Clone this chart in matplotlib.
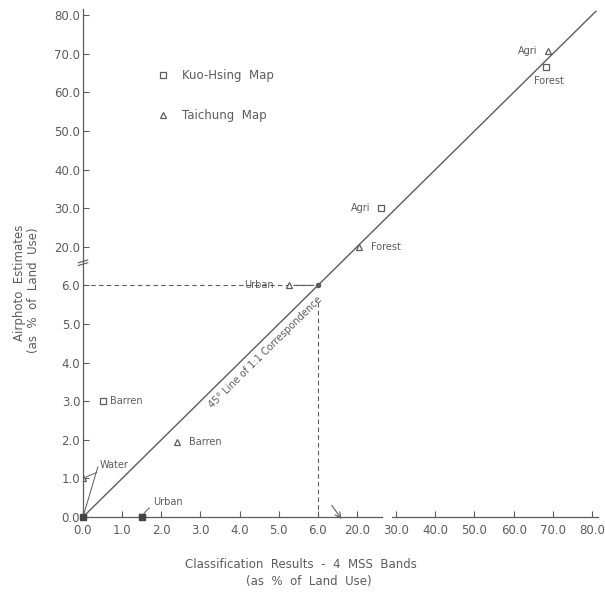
"""
Airphoto estimates vs. 4-band MSS classification, broken 0-6 / 20-80 axes.
"""

import numpy as np
import matplotlib.pyplot as plt

# Tick values on both axes (scale is broken between 6 and 20)
tick_values = [0, 1, 2, 3, 4, 5, 6, 20, 30, 40, 50, 60, 70, 80]
tick_labels = [f'{v:.1f}' for v in tick_values]

# Kuo-Hsing map (squares): classification % (x), airphoto % (y)
kuo_names = ['Agri', 'Forest', 'Urban', 'Barren', 'Water']
kuo_class = [26.0, 68.3, 1.5, 0.5, 0.0]
kuo_photo = [30.0, 66.5, 0.0, 3.0, 0.0]

# Taichung map (triangles)
tai_names = ['Agri', 'Forest', 'Urban', 'Barren', 'Water']
tai_class = [68.8, 20.5, 5.25, 2.4, 0.0]
tai_photo = [70.7, 20.0, 6.0, 1.95, 1.0]

ref_value = 6.0      # dashed guides where the scale breaks
line_end = 81.0      # end of the 1:1 line


def fwd(v):
    v = np.asarray(v, dtype=float)
    return np.where(v <= 6, v, np.where(v < 20, 6 + (v - 6) / 14, 7 + (v - 20) / 10))


def inv(p):
    p = np.asarray(p, dtype=float)
    return np.where(p <= 6, p, np.where(p < 7, 6 + (p - 6) * 14, 20 + (p - 7) * 10))


c = '#5c5c5c'
plt.rcParams['font.family'] = ['DejaVu Sans']

fig = plt.figure(figsize=(6.05, 5.93), dpi=100)
ax = fig.add_axes([83 / 605, 76 / 593, 514.8 / 605, 507.6 / 593])
ax.set_xscale('function', functions=(fwd, inv))
ax.set_yscale('function', functions=(fwd, inv))
lim = float(inv(13.15))
ax.set_xlim(0, lim)
ax.set_ylim(0, lim)

ax.set_xticks(tick_values)
ax.set_xticklabels(tick_labels)
ax.set_yticks(tick_values)
ax.set_yticklabels(tick_labels)
ax.minorticks_off()
ax.tick_params(direction='in', length=4, width=0.8, color=c, labelcolor=c,
               labelsize=8.5)
ax.tick_params(axis='x', pad=5)
ax.tick_params(axis='y', pad=2)

for s in ['top', 'right', 'bottom']:
    ax.spines[s].set_visible(False)
ax.spines['left'].set_color(c)
ax.spines['left'].set_linewidth(0.9)

# x axis drawn by hand, with the small gap before 30
ax.plot([0, 26.4], [0, 0], c=c, lw=0.9, clip_on=False)
ax.plot([29.0, lim], [0, 0], c=c, lw=0.9, clip_on=False)

# break marks
for dy in (0.0, 1.0):
    ax.plot([-0.12, 0.12], [13.2 + dy, 14.2 + dy], c=c, lw=0.8, clip_on=False)
ax.annotate('', xy=(14.4, -0.05), xytext=(11.0, 0.3),
            arrowprops=dict(arrowstyle='->', color=c, lw=0.8,
                            shrinkA=0, shrinkB=0), annotation_clip=False)

# 1:1 line and dashed guides
ax.plot([0, line_end], [0, line_end], c=c, lw=1.0)
ax.plot([0, 5.8], [ref_value, ref_value], c=c, lw=0.8, ls=(0, (4, 3)))
ax.plot([ref_value, ref_value], [0, 5.6], c=c, lw=0.8, ls=(0, (4, 3)))
ax.plot([ref_value], [ref_value], 'o', ms=3, c=c)
ax.text(4.65, 4.27, '45° Line of 1:1 Correspondence', rotation=44.6,
        rotation_mode='anchor', ha='center', va='center', fontsize=7,
        color=c)

# points
kuo, = ax.plot(kuo_class, kuo_photo, 's', ms=4.5, mfc='white', mec=c, mew=0.9,
               ls='none', label='Kuo-Hsing  Map')
tai, = ax.plot(tai_class, tai_photo, '^', ms=5, mfc='white', mec=c, mew=0.9,
               ls='none', label='Taichung  Map')
# the crowded points on the axes come out dark in the original
ax.plot(kuo_class[2:5:2], kuo_photo[2:5:2], 's', ms=4.5, c='#444444',
        ls='none', clip_on=False, zorder=3)

fs = 7
kw = dict(textcoords='offset points', fontsize=fs, color=c, va='center')
ax.annotate('Agri', (kuo_class[0], kuo_photo[0]), xytext=(-7, 0), ha='right', **kw)
ax.annotate('Forest', (kuo_class[1], kuo_photo[1]), xytext=(2, -10), ha='center', **kw)
ax.annotate('Barren', (kuo_class[3], kuo_photo[3]), xytext=(5, 0), ha='left', **kw)
ax.annotate('Agri', (tai_class[0], tai_photo[0]), xytext=(-8, 0), ha='right', **kw)
ax.annotate('Forest', (tai_class[1], tai_photo[1]), xytext=(9, 0), ha='left', **kw)
ax.annotate('Barren', (tai_class[3], tai_photo[3]), xytext=(9, 0), ha='left', **kw)
ax.annotate('Urban', (tai_class[2], tai_photo[2]), xytext=(-11, 0), ha='right', **kw)
ax.annotate('', xy=(ref_value, ref_value), xytext=(tai_class[2], tai_photo[2]),
            arrowprops=dict(arrowstyle='-', color=c, lw=0.8, shrinkA=4, shrinkB=3))

lead = dict(arrowstyle='-', color=c, lw=0.7, shrinkA=0, shrinkB=2)
ax.annotate('Water', (tai_class[4], tai_photo[4]), xytext=(0.42, 1.35),
            textcoords='data', fontsize=fs, color=c, va='center', ha='left',
            arrowprops=lead, annotation_clip=False)
ax.annotate('', (kuo_class[4], kuo_photo[4]), xytext=(0.38, 1.3),
            arrowprops=lead, annotation_clip=False)
ax.annotate('Urban', (kuo_class[2], kuo_photo[2]), xytext=(1.8, 0.38),
            textcoords='data', fontsize=fs, color=c, va='center', ha='left',
            arrowprops=dict(arrowstyle='-', color=c, lw=0.7, shrinkA=1,
                            shrinkB=3, connectionstyle='arc3,rad=0.3'))

ax.legend(handles=[kuo, tai], loc='upper left', bbox_to_anchor=(0.144, 0.883),
          frameon=False, fontsize=8.5, handlelength=1.0, handletextpad=1.1,
          labelspacing=2.3, borderpad=0, borderaxespad=0, labelcolor=c)

fig.text(0.497, 1 - 564 / 593, 'Classification  Results  -  4  MSS  Bands',
         ha='center', va='center', fontsize=8.5, color=c)
fig.text(0.51, 1 - 582 / 593, '(as  %  of  Land  Use)',
         ha='center', va='center', fontsize=8.5, color=c)
fig.text(20 / 605, 1 - 283 / 593, 'Airphoto  Estimates', rotation=90,
         ha='center', va='center', fontsize=8.5, color=c)
fig.text(33 / 605, 1 - 290 / 593, '(as  %  of  Land  Use)', rotation=90,
         ha='center', va='center', fontsize=8.5, color=c)

fig.savefig('out.png', dpi=100)
